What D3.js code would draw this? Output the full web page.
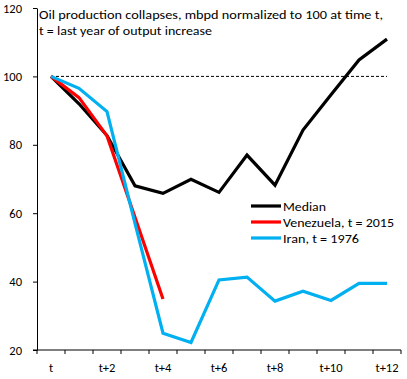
<!DOCTYPE html>
<html><head><meta charset="utf-8">
<script src="https://cdn.jsdelivr.net/npm/d3@7"></script>
<style>
html,body{margin:0;padding:0;background:#fff;}
svg{display:block;font-family:Carlito,Lato,"Open Sans",sans-serif;}
</style></head>
<body><svg id="c" width="407" height="379"></svg>
<script>
const categories = ["t","t+1","t+2","t+3","t+4","t+5","t+6","t+7","t+8","t+9","t+10","t+11","t+12"];
const xTickLabels = ["t","t+2","t+4","t+6","t+8","t+10","t+12"];
const yTicks = [20,40,60,80,100,120];
const median    = [100, 92, 82.7, 68, 65.8, 69.9, 66.1, 77, 68.2, 84.3, 94.6, 104.8, 110.9];
const venezuela = [100, 93.8, 82.6, 58.8, 34.9];
const iran      = [100, 96.5, 89.7, 57, 24.9, 22.2, 40.5, 41.3, 34.3, 37.2, 34.5, 39.5, 39.5];
const baseline = 100;
const titleLines = ["Oil production collapses, mbpd normalized to 100 at time t,", "t = last year of output increase"];
const series = [
  {name:"Median", values: median, color:"#000000"},
  {name:"Venezuela, t = 2015", values: venezuela, color:"#ff0000"},
  {name:"Iran, t = 1976", values: iran, color:"#00b0f0"}
];

(function(){
const svg = d3.select("#c");
const mLeft = 37, mRight = 401, mTop = 8, mBottom = 350;
const x = d3.scaleBand().domain(categories).range([mLeft, mRight]).padding(0);
const y = d3.scaleLinear().domain([20,120]).range([mBottom, mTop]);
const cx = c => x(c) + x.bandwidth()/2;

// y axis
const ya = svg.append("g").attr("transform", `translate(${mLeft},0)`)
  .call(d3.axisLeft(y).tickValues(yTicks).tickSize(4).tickPadding(11).tickSizeOuter(0));
ya.select(".domain").attr("stroke","#000");
ya.selectAll(".tick line").attr("stroke","#000");
ya.selectAll("text").attr("font-size", 12.5).attr("fill","#000").attr("font-family","Carlito,Lato,sans-serif");

// x axis: domain line + ticks at band boundaries
const xa = svg.append("g").attr("transform", `translate(0,${mBottom})`);
xa.append("line").attr("x1", mLeft-4).attr("x2", mRight).attr("y1",0).attr("y2",0).attr("stroke","#000");
const bounds = categories.map(c => x(c)).concat([x(categories[categories.length-1]) + x.bandwidth()]);
xa.selectAll("line.tk").data(bounds).join("line").attr("class","tk")
  .attr("x1", d=>d).attr("x2", d=>d).attr("y1",0).attr("y2",4).attr("stroke","#000");
const xl = svg.append("g").attr("transform", `translate(0,${mBottom})`)
  .call(d3.axisBottom(x).tickValues(xTickLabels).tickSize(0).tickPadding(13));
xl.select(".domain").remove();
xl.selectAll("text").attr("font-size", 12.5).attr("fill","#000").attr("font-family","Carlito,Lato,sans-serif");

// baseline dashed
svg.append("line")
  .attr("x1", cx(categories[0])).attr("x2", cx(categories[categories.length-1]))
  .attr("y1", y(baseline)).attr("y2", y(baseline))
  .attr("stroke","#000").attr("stroke-width",1).attr("stroke-dasharray","3,2");

const line = d3.line().x((d,i)=>cx(categories[i])).y(d=>y(d));
series.forEach(s => {
  svg.append("path").datum(s.values).attr("d", line)
    .attr("fill","none").attr("stroke", s.color).attr("stroke-width", 3.2)
    .attr("stroke-linejoin","miter");
});

// title
const titleWidths = [344, 173];
titleLines.forEach((t,i) => {
  svg.append("text").attr("x", 39).attr("y", 19 + i*15.5).text(t)
    .attr("font-size", 13).attr("fill","#000")
    .attr("textLength", titleWidths[i]).attr("lengthAdjust","spacingAndGlyphs");
});

// legend
const legW = [43, 111, 76];
series.forEach((s,i) => {
  const ly = 206 + i*16;
  svg.append("line").attr("x1", 251).attr("x2", 281).attr("y1", ly).attr("y2", ly)
    .attr("stroke", s.color).attr("stroke-width", 3.2);
  svg.append("text").attr("x", 283).attr("y", ly + 4.5).text(s.name)
    .attr("font-size", 13).attr("fill","#000")
    .attr("textLength", legW[i]).attr("lengthAdjust","spacingAndGlyphs");
});
})();
</script></body></html>
